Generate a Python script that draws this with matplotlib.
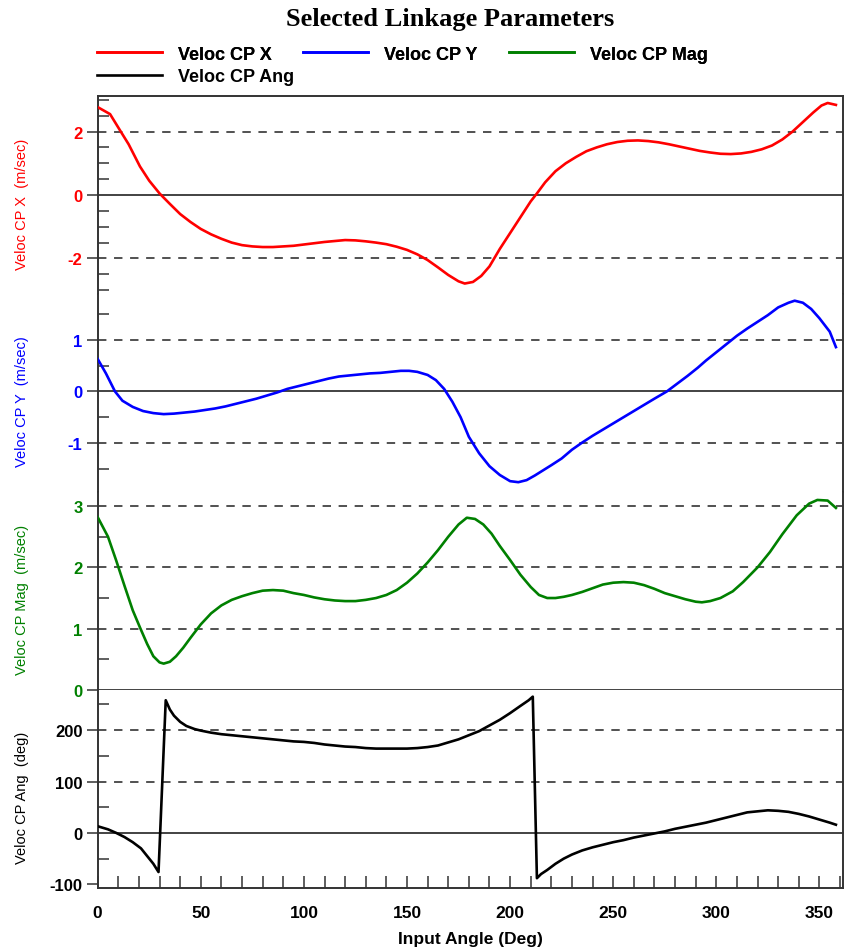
import matplotlib
matplotlib.use("Agg")
import matplotlib.pyplot as plt
from matplotlib.ticker import MultipleLocator, FixedLocator

plt.rcParams['font.family'] = ['Liberation Sans', 'DejaVu Sans']
plt.rcParams['axes.unicode_minus'] = False

# ---- data ----
ang_x = [0, 6, 11, 15, 20.5, 25, 30, 35, 40, 45, 50, 55, 60, 65, 70, 75, 80, 85, 90,
         95, 100, 105, 110, 115, 120, 125, 130, 135, 140, 145, 150, 155, 160, 165, 170,
         175, 178, 182, 186, 190, 195, 200, 205, 210, 213, 217, 222, 227, 232, 237, 242,
         247, 252, 257, 262, 267, 272, 277, 282, 287, 292, 297, 302, 307, 312, 317, 322,
         327, 332, 337, 342, 347, 351, 354, 358]
vel_x = [2.77, 2.55, 2.02, 1.6, 0.9, 0.45, 0.05, -0.28, -0.6, -0.85, -1.07, -1.24, -1.38,
         -1.5, -1.58, -1.62, -1.64, -1.64, -1.62, -1.6, -1.56, -1.52, -1.48, -1.45, -1.42,
         -1.43, -1.46, -1.5, -1.55, -1.63, -1.73, -1.87, -2.05, -2.28, -2.52, -2.72, -2.79,
         -2.74, -2.55, -2.25, -1.7, -1.2, -0.7, -0.2, 0.05, 0.4, 0.75, 1.0, 1.2, 1.38, 1.5,
         1.6, 1.67, 1.71, 1.72, 1.7, 1.66, 1.6, 1.53, 1.46, 1.39, 1.34, 1.3, 1.29, 1.31,
         1.36, 1.44, 1.56, 1.75, 2.0, 2.3, 2.6, 2.82, 2.9, 2.84]

ang_y = [0, 4, 8.4, 12, 17, 22, 27, 32, 37, 42, 47, 52, 57, 62, 67, 72, 77, 82, 87, 92,
         97, 102, 107, 112, 117, 122, 127, 132, 137, 142, 147, 151, 155, 160, 164, 168,
         172, 176, 180, 185, 190, 195, 200, 204, 208, 212, 216, 220, 225, 230, 235, 240,
         245, 250, 255, 260, 265, 270, 276, 281, 286, 291, 295, 300, 305, 310, 315, 320,
         325, 330, 335, 338, 342, 346, 350, 355, 358]
vel_y = [0.63, 0.35, 0.0, -0.18, -0.3, -0.38, -0.42, -0.44, -0.43, -0.41, -0.39, -0.36,
         -0.33, -0.29, -0.24, -0.19, -0.14, -0.08, -0.02, 0.05, 0.1, 0.15, 0.2, 0.25, 0.29,
         0.31, 0.33, 0.35, 0.36, 0.38, 0.4, 0.4, 0.38, 0.32, 0.22, 0.05, -0.2, -0.5, -0.88,
         -1.2, -1.45, -1.62, -1.74, -1.76, -1.72, -1.63, -1.53, -1.43, -1.3, -1.13, -0.99,
         -0.86, -0.74, -0.62, -0.5, -0.38, -0.26, -0.14, 0.0, 0.15, 0.3, 0.46, 0.6, 0.76,
         0.92, 1.08, 1.22, 1.35, 1.48, 1.63, 1.72, 1.76, 1.72, 1.6, 1.42, 1.16, 0.86]

ang_mag = [0, 5, 9, 13, 17, 20.5, 24, 27, 30, 32, 35, 38, 41.5, 45, 50, 55, 60, 65, 70,
           75, 80, 85, 90, 95, 100, 105, 110, 115, 120, 125, 130, 135, 140, 145, 150, 155,
           160, 165, 170, 175, 179, 183, 187, 191, 195, 200, 205, 210, 214, 218, 222, 226,
           230, 235, 240, 245, 250, 255, 260, 265, 270, 275, 280, 285, 290, 293, 297, 302,
           308, 313, 320, 326, 332, 339, 345, 349, 354, 358]
vel_mag = [2.82, 2.5, 2.11, 1.7, 1.3, 1.02, 0.75, 0.55, 0.45, 0.43, 0.46, 0.55, 0.69, 0.85,
           1.07, 1.25, 1.38, 1.47, 1.53, 1.58, 1.62, 1.63, 1.62, 1.58, 1.55, 1.51, 1.48,
           1.46, 1.45, 1.45, 1.47, 1.5, 1.55, 1.63, 1.75, 1.9, 2.08, 2.28, 2.5, 2.7, 2.81,
           2.79, 2.7, 2.55, 2.35, 2.12, 1.88, 1.68, 1.55, 1.5, 1.5, 1.52, 1.55, 1.6, 1.66,
           1.72, 1.75, 1.76, 1.75, 1.71, 1.65, 1.58, 1.53, 1.48, 1.44, 1.43, 1.45, 1.5,
           1.61, 1.76, 2.0, 2.25, 2.54, 2.85, 3.04, 3.1, 3.09, 2.97]

ang_ang = [0, 5, 9, 13, 17, 21, 24, 27, 29.5, 33, 35, 37, 40, 43, 47, 50, 55, 60, 65, 70,
           75, 80, 85, 90, 95, 100, 105, 110, 115, 120, 125, 130, 135, 140, 145, 150, 155,
           160, 165, 170, 175, 180, 185, 190, 195, 200, 205, 209, 211, 213, 215, 218, 222,
           226, 230, 235, 240, 245, 250, 255, 260, 265, 270, 275, 280, 285, 290, 295, 300,
           305, 310, 315, 320, 325, 330, 335, 340, 345, 350, 355, 358]
vel_ang = [13, 7, 0, -8, -18, -30, -45, -60, -76, 258, 240, 228, 216, 208, 202, 199, 195,
           192, 190, 188, 186, 184, 182, 180, 178, 177, 175, 172, 170, 168, 167, 165, 164,
           164, 164, 164, 165, 167, 170, 176, 182, 190, 198, 209, 220, 233, 247, 258, 265,
           -88, -80, -72, -60, -50, -42, -34, -28, -23, -18, -14, -9, -5, -1, 3, 8, 12, 16,
           20, 25, 30, 35, 40, 42, 44, 43, 41, 37, 32, 26, 20, 16]

labels = ["Veloc CP X", "Veloc CP Y", "Veloc CP Mag", "Veloc CP Ang"]
ylabels = ["Veloc CP X  (m/sec)", "Veloc CP Y  (m/sec)", "Veloc CP Mag  (m/sec)",
           "Veloc CP Ang  (deg)"]
colors = ["#ff0000", "#0000ff", "#008000", "#000000"]
ylims = [(-3.12, 3.12), (-1.95, 1.89), (0, 3.23), (-107, 278)]
major_ticks = [[-2, 0, 2], [-1, 0, 1], [0, 1, 2, 3], [-100, 0, 100, 200]]
minor_ticks = [[-3, -2.5, -1.5, -1, -0.5, 0.5, 1, 1.5, 2.5, 3],
               [-1.5, -0.5, 0.5, 1.5], [0.5, 1.5, 2.5], [-50, 50, 150, 250]]
dashed_lines = [[-2, 2], [-1, 1], [1, 2, 3], [100, 200]]

series = [(ang_x, vel_x), (ang_y, vel_y), (ang_mag, vel_mag), (ang_ang, vel_ang)]

fig = plt.figure(figsize=(8.45, 9.53), dpi=100)
axes = fig.subplots(4, 1, sharex=True, gridspec_kw=dict(hspace=0))
fig.subplots_adjust(left=0.1156, right=0.9973, top=0.8982, bottom=0.0672)

spine_c = "#333333"
handles = []
for i, ax in enumerate(axes):
    xs, ys = series[i]
    ln, = ax.plot(xs, ys, color=colors[i], lw=1.9, label=labels[i], zorder=5)
    handles.append(ln)
    for v in dashed_lines[i]:
        ax.axhline(v, color="#222222", lw=1.1, ls=(0, (5.5, 5)), zorder=2)
    ax.axhline(0, color="#222222", lw=1.2, zorder=2, clip_on=False)
    ax.set_ylim(*ylims[i])
    ax.yaxis.set_major_locator(FixedLocator(major_ticks[i]))
    ax.yaxis.set_minor_locator(FixedLocator(minor_ticks[i]))
    ax.tick_params(axis="y", which="major", direction="out", length=8, width=1.1,
                   color=spine_c, labelsize=12, labelcolor=colors[i], pad=3)
    ax.tick_params(axis="y", which="minor", direction="in", length=8, width=1.1,
                   color=spine_c)
    for t in ax.get_yticklabels():
        t.set_fontweight("bold")
    ax.set_ylabel(ylabels[i], color=colors[i], fontsize=10.5)
    ax.yaxis.set_label_coords(-0.092, 0.46)
    for s in ax.spines.values():
        s.set_color(spine_c)
        s.set_linewidth(1.4)
    if i > 0:
        ax.spines["top"].set_visible(False)
    if i < 3:
        ax.spines["bottom"].set_visible(False)
        ax.tick_params(axis="x", which="both", bottom=False, labelbottom=False)

ax = axes[3]
ax.set_xlim(0, 361.3)
ax.xaxis.set_major_locator(MultipleLocator(50))
ax.xaxis.set_minor_locator(MultipleLocator(10))
ax.tick_params(axis="x", which="major", direction="in", length=9, width=1.1,
               color=spine_c, labelsize=12.5, pad=12)
ax.tick_params(axis="x", which="minor", direction="in", length=8.5, width=1.1,
               color=spine_c)
for t in ax.get_xticklabels():
    t.set_fontweight("bold")
ax.set_xlabel("Input Angle (Deg)", fontsize=12.5, fontweight="bold", labelpad=8)

fig.text(0.5325, 0.980, "Selected Linkage Parameters", ha="center", va="center",
         fontsize=19, fontweight="bold", family="Liberation Serif")

leg_kw = dict(loc="center left", frameon=False, borderpad=0, borderaxespad=0,
              handlelength=3.6, handletextpad=0.88, prop=dict(size=13, weight="bold"))
leg1 = fig.legend(handles[:3], labels[:3], ncol=3, columnspacing=1.75,
                  bbox_to_anchor=(97 / 845, 1 - 55 / 953), **leg_kw)
fig.add_artist(leg1)
fig.legend(handles[3:], labels[3:], ncol=1,
           bbox_to_anchor=(97 / 845, 1 - 78 / 953), **leg_kw)

fig.savefig("out.png", dpi=100)
